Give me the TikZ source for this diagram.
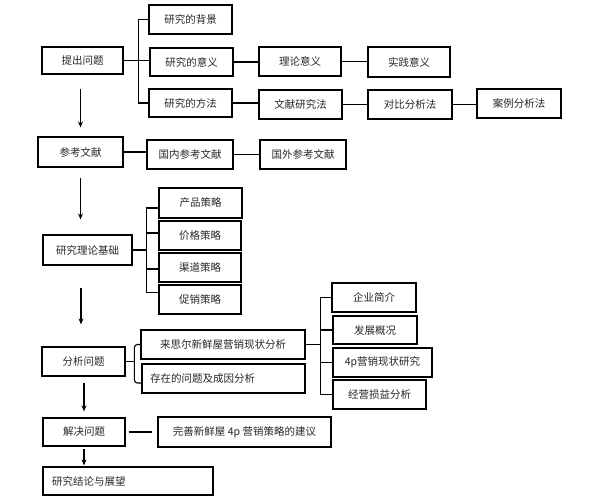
\documentclass[tikz,border=0pt]{standalone}
\usepackage{fontspec}
\newfontfamily\cjk{Noto Sans CJK SC}
\usetikzlibrary{arrows.meta,calc}
\begin{document}
\begin{tikzpicture}[x=1pt,y=-1pt,
  box/.style={draw=black,line width=1.2pt,inner sep=0pt,font=\cjk\fontsize{10.5}{12}\selectfont,text=black!85},
  lbox/.style={box,align=left,inner xsep=8pt},
  conn/.style={line width=1.1pt,draw=black},
  arr/.style={conn,-{Stealth[length=6pt,width=5pt,inset=2pt]}}]
\useasboundingbox (0,0) rectangle (594,501);
% row 1
\node[box,minimum width=81,minimum height=27] (tc) at (82.5,60.5) {提出问题};
\node[box,minimum width=83,minimum height=29] (bj) at (190.5,19.5) {研究的背景};
\node[box,minimum width=83,minimum height=28] (yy) at (191.5,62) {研究的意义};
\node[box,minimum width=82,minimum height=29] (ll) at (300,61.5) {理论意义};
\node[box,minimum width=82,minimum height=30] (sj) at (409,62) {实践意义};
\node[box,minimum width=83,minimum height=28] (ff) at (190.5,103) {研究的方法};
\node[box,minimum width=83,minimum height=29] (wx) at (300.5,104.5) {文献研究法};
\node[box,minimum width=84,minimum height=29] (db) at (410,104.5) {对比分析法};
\node[box,minimum width=84,minimum height=29] (al) at (519,103.5) {案例分析法};
% row 2
\node[box,minimum width=85,minimum height=30] (ck) at (80.5,152) {参考文献};
\node[box,minimum width=86,minimum height=29] (gn) at (190,154.5) {国内参考文献};
\node[box,minimum width=86,minimum height=29] (gw) at (303,154.5) {国外参考文献};
% row 3
\node[box,minimum width=89,minimum height=30] (jc) at (87.5,250) {研究理论基础};
\node[box,minimum width=83,minimum height=30] (cp) at (200.5,203) {产品策略};
\node[box,minimum width=82,minimum height=29] (jg) at (200,235.5) {价格策略};
\node[box,minimum width=82,minimum height=29] (qd) at (200,267.5) {渠道策略};
\node[box,minimum width=82,minimum height=29] (cx) at (200,299.5) {促销策略};
% row 4
\node[box,minimum width=83,minimum height=29] (fx) at (83.5,361.5) {分析问题};
\node[box,minimum width=164,minimum height=29] (ls) at (223,344.5) {来思尔新鲜屋营销现状分析};
\node[lbox,text width=147,minimum height=29] (cz) at (223.5,378.5) {存在的问题及成因分析};
\node[box,minimum width=84,minimum height=29] (qy) at (374,297.5) {企业简介};
\node[box,minimum width=84,minimum height=28] (fz) at (375,330) {发展概况};
\node[box,minimum width=99,minimum height=29] (sp) at (382.5,362.5) {4p营销现状研究};
\node[box,minimum width=93,minimum height=29] (jy) at (379.5,394.5) {经营损益分析};
% row 5
\node[box,minimum width=82,minimum height=28] (jj) at (84,432) {解决问题};
\node[box,minimum width=173,minimum height=30] (ws) at (244.5,432) {完善新鲜屋 4p 营销策略的建议};
\node[lbox,inner xsep=9pt,text width=152,minimum height=28] (yj) at (128,481) {研究结论与展望};
% connectors row 1
\draw[conn] (tc.east) -- (tc.east -| yy.west);
\draw[conn] (bj.west) -- ++(-10,0) |- (ff.west);
\draw[conn] (yy.east) -- (yy.east -| ll.west);
\draw[conn] (ll.east) -- (ll.east -| sj.west);
\draw[conn] (ff.east) -- (ff.east -| wx.west);
\draw[conn] (wx.east) -- (wx.east -| db.west);
\draw[conn] (db.east) -- (db.east -| al.west);
\draw[arr,shorten <=14pt,shorten >=9pt] (ck.north |- tc.south) -- (ck.north);
% row 2
\draw[conn] (ck.east) -- (ck.east -| gn.west);
\draw[conn] (gn.east) -- (gn.east -| gw.west);
\draw[arr,shorten <=10pt,shorten >=15pt] (ck.south) -- (ck.south |- jc.north);
% row 3
\coordinate (jb) at ($([yshift=-5pt]cp.west)+(-12,0)$);
\draw[conn] (jc.east) -- (jc.east -| jb);
\draw[conn] ([yshift=-5pt]cp.west) -- (jb) |- ([yshift=7pt]cx.west);
\draw[conn] ([yshift=2.5pt]jg.west) -- ++(-12,0);
\draw[conn] ([yshift=-1.5pt]qd.west) -- ++(-12,0);
\draw[arr,shorten <=22pt,shorten >=22pt] ([xshift=-2.5pt]fx.north |- jc.south) -- ([xshift=-2.5pt]fx.north);
% row 4
\coordinate (fb) at ($(ls.west)+(-6,0)$);
\draw[conn] (fx.east) -- (fx.east -| fb);
\draw[conn,rounded corners=3pt] (ls.west) -- (fb) |- ([yshift=-4.5pt]cz.west);
\coordinate (lb) at ($(qy.west)+(-11,0)$);
\draw[conn] (ls.east) -- (ls.east -| lb);
\draw[conn] (qy.west) -- (lb) |- (jy.west);
\draw[conn] (fz.west) -- (fz.west -| lb);
\draw[conn] (sp.west) -- (sp.west -| lb);
\draw[arr,shorten <=6pt,shorten >=6pt] (jj.north |- fx.south) -- (jj.north);
% row 5
\draw[conn,shorten <=3pt,shorten >=5pt] (jj.east) -- (ws.west);
\draw[arr,shorten <=2pt,shorten >=1pt] (jj.south) -- (jj.south |- yj.north);
\end{tikzpicture}
\end{document}
